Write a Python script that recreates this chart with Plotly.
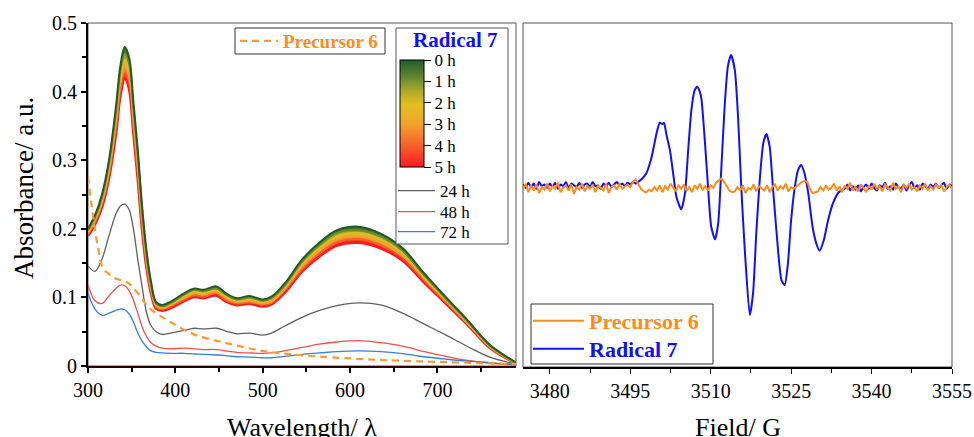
import numpy as np
import plotly.graph_objects as go

# ---------------- UV-vis data (left panel) ----------------
wavelength = [300, 308, 316, 324, 332, 337, 342, 347, 352, 357, 362, 367, 372, 378, 385, 395,
              410, 422, 432, 447, 458, 470, 485, 500, 510, 525, 545, 565, 585, 610, 635, 660,
              685, 710, 735, 760, 790]
abs_0h = [0.200, 0.220, 0.250, 0.300, 0.378, 0.437, 0.465, 0.450, 0.385, 0.315, 0.232, 0.168, 0.124,
          0.093, 0.089, 0.094, 0.106, 0.113, 0.111, 0.116, 0.106, 0.099, 0.102, 0.097, 0.101, 0.120,
          0.155, 0.180, 0.198, 0.203, 0.193, 0.172, 0.135, 0.100, 0.066, 0.031, 0.005]
abs_1h = [0.198, 0.217, 0.246, 0.295, 0.370, 0.429, 0.456, 0.441, 0.376, 0.307, 0.226, 0.163, 0.121,
          0.091, 0.087, 0.092, 0.104, 0.111, 0.109, 0.113, 0.104, 0.097, 0.100, 0.095, 0.099, 0.117,
          0.152, 0.176, 0.194, 0.198, 0.189, 0.168, 0.132, 0.098, 0.065, 0.030, 0.005]
abs_2h = [0.196, 0.215, 0.243, 0.290, 0.363, 0.420, 0.447, 0.432, 0.368, 0.299, 0.219, 0.159, 0.118,
          0.089, 0.086, 0.090, 0.102, 0.108, 0.106, 0.111, 0.101, 0.095, 0.098, 0.093, 0.097, 0.115,
          0.148, 0.172, 0.189, 0.194, 0.185, 0.165, 0.130, 0.096, 0.064, 0.029, 0.005]
abs_3h = [0.194, 0.212, 0.239, 0.285, 0.355, 0.412, 0.437, 0.423, 0.359, 0.291, 0.213, 0.154, 0.114,
          0.088, 0.084, 0.089, 0.099, 0.106, 0.104, 0.108, 0.099, 0.093, 0.095, 0.091, 0.094, 0.112,
          0.145, 0.168, 0.185, 0.189, 0.180, 0.161, 0.127, 0.095, 0.062, 0.028, 0.004]
abs_4h = [0.192, 0.210, 0.236, 0.280, 0.348, 0.403, 0.428, 0.414, 0.351, 0.283, 0.206, 0.150, 0.111,
          0.086, 0.083, 0.087, 0.097, 0.103, 0.101, 0.106, 0.096, 0.091, 0.093, 0.089, 0.092, 0.110,
          0.141, 0.164, 0.180, 0.185, 0.176, 0.158, 0.125, 0.093, 0.061, 0.028, 0.004]
abs_5h = [0.190, 0.207, 0.232, 0.275, 0.340, 0.395, 0.419, 0.405, 0.342, 0.275, 0.200, 0.145, 0.108,
          0.084, 0.081, 0.085, 0.095, 0.101, 0.099, 0.103, 0.094, 0.089, 0.091, 0.087, 0.090, 0.107,
          0.138, 0.160, 0.176, 0.180, 0.172, 0.154, 0.122, 0.091, 0.060, 0.027, 0.004]
abs_24h = [0.146, 0.138, 0.156, 0.190, 0.222, 0.233, 0.236, 0.228, 0.200, 0.155, 0.115, 0.078, 0.059,
           0.050, 0.046, 0.048, 0.052, 0.055, 0.054, 0.055, 0.051, 0.047, 0.048, 0.045, 0.048, 0.058,
           0.071, 0.081, 0.088, 0.092, 0.089, 0.077, 0.061, 0.045, 0.028, 0.013, 0.003]
abs_48h = [0.118, 0.095, 0.091, 0.102, 0.113, 0.118, 0.117, 0.110, 0.096, 0.077, 0.057, 0.043, 0.034,
           0.029, 0.026, 0.025, 0.026, 0.025, 0.024, 0.024, 0.022, 0.020, 0.019, 0.0185, 0.019, 0.022,
           0.027, 0.032, 0.035, 0.037, 0.034, 0.029, 0.021, 0.014, 0.008, 0.004, 0.002]
abs_72h = [0.106, 0.083, 0.074, 0.077, 0.081, 0.083, 0.082, 0.076, 0.064, 0.048, 0.036, 0.028, 0.022,
           0.020, 0.019, 0.0185, 0.0185, 0.0175, 0.017, 0.016, 0.015, 0.0135, 0.013, 0.012, 0.012,
           0.014, 0.017, 0.019, 0.021, 0.022, 0.021, 0.018, 0.0135, 0.010, 0.007, 0.005, 0.002]

wavelength_precursor = [300, 304, 308, 312, 317, 324, 331, 346, 357, 369, 384, 400, 411, 428, 450,
                        466, 500, 542, 600, 650, 700, 750, 790]
abs_precursor = [0.276, 0.235, 0.198, 0.169, 0.143, 0.134, 0.128, 0.121, 0.106, 0.086, 0.072, 0.060,
                 0.052, 0.043, 0.036, 0.031, 0.022, 0.016, 0.011, 0.008, 0.006, 0.004, 0.003]

hour_labels = ["0 h", "1 h", "2 h", "3 h", "4 h", "5 h"]
late_labels = ["24 h", "48 h", "72 h"]

# ---------------- EPR data (right panel) ----------------
field_precursor = np.arange(3475.0, 3555.01, 0.5)
epr_precursor = [
    -0.010, 0.020, -0.030, 0.010, -0.020, 0.015, -0.035, 0.000, -0.015, 0.020,
    -0.025, 0.005, -0.010, 0.025, -0.030, -0.005, 0.010, -0.020, 0.015, -0.040,
    0.000, -0.015, 0.020, -0.025, 0.005, -0.010, 0.015, -0.030, 0.010, -0.005,
    -0.020, 0.020, -0.035, 0.000, 0.010, -0.015, 0.020, -0.010, 0.005, 0.015,
    0.000, 0.030, 0.045, 0.020, -0.010, -0.025, -0.030, -0.015, -0.025, 0.000,
    -0.020, 0.010, -0.030, 0.005, -0.015, 0.020, -0.005, -0.025, 0.010, -0.010,
    0.015, -0.020, 0.000, -0.030, 0.010, -0.010, 0.020, -0.015, 0.005, -0.020,
    0.010, -0.005, 0.025, 0.035, 0.050, 0.030, 0.005, -0.020, -0.030, -0.025,
    0.000, -0.020, 0.010, -0.035, -0.005, -0.015, 0.015, -0.025, 0.005, -0.010,
    -0.020, 0.010, -0.030, 0.000, 0.015, -0.020, 0.005, -0.010, 0.020, -0.025,
    0.000, -0.010, 0.005, 0.015, 0.030, 0.035, 0.030, -0.010, -0.035, -0.030,
    -0.025, 0.000, -0.020, 0.010, -0.015, -0.005, 0.020, -0.020, 0.005, -0.030,
    0.010, -0.010, 0.025, -0.020, 0.000, -0.025, 0.015, -0.005, -0.030, 0.010,
    -0.015, 0.020, -0.010, 0.005, -0.025, 0.015, 0.000, -0.020, 0.025, -0.010,
    0.005, -0.030, 0.015, -0.005, 0.020, -0.015, 0.000, -0.025, 0.010, -0.010,
    0.020, -0.020, 0.005, -0.015, 0.015, -0.005, 0.010, -0.025, 0.000, 0.015, -0.010]

field_radical_left = np.arange(3475.0, 3495.51, 0.5)
epr_radical_left = [
    0.015, -0.005, 0.025, 0.000, 0.020, -0.010, 0.030, 0.005, 0.015, -0.005,
    0.020, 0.000, 0.025, -0.010, 0.015, 0.005, 0.030, -0.005, 0.020, 0.010,
    0.000, 0.025, -0.005, 0.015, 0.020, 0.000, 0.030, 0.005, 0.010, -0.010,
    0.020, 0.005, 0.025, 0.000, 0.015, 0.030, 0.010, 0.020, 0.005, 0.025,
    0.015, 0.030]
field_radical_signal = [
    3496.0, 3496.5, 3497.1, 3498.0, 3499.0, 3499.9, 3500.5, 3501.0, 3501.3, 3501.7,
    3502.4, 3503.0, 3503.6, 3504.5, 3505.2, 3505.8, 3506.4, 3507.0, 3507.5, 3508.0,
    3508.3, 3508.9, 3509.5, 3510.1, 3510.8, 3511.4, 3512.0, 3512.6, 3513.2, 3513.8,
    3514.5, 3515.1, 3515.7, 3516.4, 3517.3, 3517.9, 3518.5, 3519.1, 3519.8, 3520.4,
    3521.0, 3521.6, 3522.4, 3523.2, 3523.8, 3524.4, 3525.0, 3525.7, 3526.3, 3526.9,
    3527.5, 3528.2, 3529.0, 3529.7, 3530.3, 3531.1, 3531.9, 3532.8, 3533.8, 3534.5]
epr_radical_signal = [
    0.020, 0.030, 0.045, 0.080, 0.176, 0.311, 0.373, 0.365, 0.373, 0.311,
    0.214, 0.079, -0.056, -0.129, -0.037, 0.214, 0.446, 0.560, 0.582, 0.550,
    0.504, 0.272, 0.002, -0.230, -0.303, -0.210, 0.118, 0.466, 0.698, 0.765,
    0.678, 0.408, 0.002, -0.385, -0.742, -0.616, -0.269, 0.021, 0.253, 0.307,
    0.234, 0.002, -0.307, -0.539, -0.568, -0.443, -0.191, 0.002, 0.099, 0.128,
    0.079, -0.037, -0.230, -0.327, -0.369, -0.307, -0.191, -0.095, -0.033, -0.017]
field_radical_right = np.arange(3535.0, 3555.01, 0.5)
epr_radical_right = [
    -0.010, 0.015, -0.020, 0.005, -0.015, 0.010, -0.025, 0.000, 0.015, -0.010,
    0.020, -0.005, -0.020, 0.010, 0.000, 0.025, -0.010, 0.005, -0.015, 0.020,
    0.000, -0.010, 0.015, -0.020, 0.010, 0.030, -0.005, 0.010, -0.015, 0.020,
    0.005, -0.010, 0.015, 0.000, 0.020, -0.005, 0.010, 0.025, -0.010, 0.015,
    0.005]

field_radical = list(field_radical_left) + field_radical_signal + list(field_radical_right)
epr_radical = epr_radical_left + epr_radical_signal + epr_radical_right

# ---------------- styling ----------------
W, H = 974, 437
FONT = "Liberation Serif"


def px_x(p):
    return p / W


def px_y(p):
    return 1 - p / H


band_line_colors = ["#235a2c", "#6b8a2c", "#d9bd26", "#f1a22c", "#f5602c", "#ff1a22"]
band_fill_colors = ["#46732c", "#a5a528", "#e8b028", "#f3822c", "#fa3c26"]
band_scale = [[0.0, "#ff1a22"], [0.2, "#f5602c"], [0.4, "#f1a22c"], [0.58, "#e2c020"],
              [0.72, "#a9a82c"], [0.85, "#5e8530"], [1.0, "#235a2c"]]

fig = go.Figure()

band = [abs_0h, abs_1h, abs_2h, abs_3h, abs_4h, abs_5h]
# draw from 5 h (bottom) upward, each filled to the previous one
for k in range(5, -1, -1):
    fig.add_trace(go.Scatter(
        x=wavelength, y=band[k], mode="lines",
        line=dict(color=band_line_colors[k], width=3 if k == 5 else 2, shape="spline"),
        fill=None if k == 5 else "tonexty",
        fillcolor=None if k == 5 else band_fill_colors[k],
        showlegend=False, hoverinfo="skip", xaxis="x", yaxis="y"))

late_colors = ["#606060", "#ef5050", "#3580dc"]
late_legends = ["legend3", "legend4", "legend5"]
for lab, ys, col, lg in zip(late_labels, [abs_24h, abs_48h, abs_72h], late_colors, late_legends):
    fig.add_trace(go.Scatter(
        x=wavelength, y=ys, mode="lines", name=lab,
        line=dict(color=col, width=1.3, shape="spline"),
        legend=lg, xaxis="x", yaxis="y"))

fig.add_trace(go.Scatter(
    x=wavelength_precursor, y=abs_precursor, mode="lines",
    name="<b>Precursor 6</b>",
    line=dict(color="#ff9a33", width=2.2, dash="7px,5px", shape="spline"),
    legend="legend", xaxis="x", yaxis="y"))

# colour bar for the 0-5 h series
fig.add_trace(go.Scatter(
    x=[None], y=[None], mode="markers", showlegend=False, hoverinfo="skip",
    marker=dict(color=[0], colorscale=band_scale, cmin=0, cmax=5, showscale=True,
                colorbar=dict(
                    x=px_x(400), xanchor="left", y=px_y(113.5), yanchor="middle",
                    len=107, lenmode="pixels", thickness=24, thicknessmode="pixels",
                    xpad=0, ypad=0, outlinewidth=1, outlinecolor="black",
                    tickvals=[5, 4, 3, 2, 1, 0], ticktext=hour_labels,
                    ticks="outside", ticklen=7, tickcolor="black", tickwidth=1,
                    tickfont=dict(family=FONT, size=17, color="black"),
                    borderwidth=0, bgcolor="rgba(0,0,0,0)")),
    xaxis="x", yaxis="y"))

# EPR traces
fig.add_trace(go.Scatter(
    x=field_radical, y=epr_radical, mode="lines",
    name="<span style='color:#1010ff'><b>Radical 7</b></span>",
    line=dict(color="#1010ff", width=2, shape="spline", smoothing=0.6),
    legend="legend6", xaxis="x2", yaxis="y2"))
fig.add_trace(go.Scatter(
    x=field_precursor, y=epr_precursor, mode="lines",
    name="<span style='color:#ff8c1a'><b>Precursor 6</b></span>",
    line=dict(color="#ff8c1a", width=2),
    legend="legend2", xaxis="x2", yaxis="y2"))

tickfont = dict(family=FONT, size=20, color="black")


def one_legend(x_left, y_mid, size, width, color="black"):
    return dict(x=px_x(x_left), y=px_y(y_mid), xanchor="left", yanchor="middle",
                bgcolor="rgba(0,0,0,0)", borderwidth=0, itemwidth=width,
                font=dict(family=FONT, size=size, color=color))


fig.update_layout(
    width=W, height=H, margin=dict(l=0, r=0, t=0, b=0, autoexpand=False),
    paper_bgcolor="white", plot_bgcolor="white",
    font=dict(family=FONT, color="black"),
    xaxis=dict(domain=[px_x(88), px_x(516)], range=[300, 790], tick0=300, dtick=100,
               ticks="outside", ticklen=5, tickwidth=1.5, tickcolor="black",
               minor=dict(dtick=50, tick0=300, ticks="outside", ticklen=4, tickcolor="black", showgrid=False),
               showline=True, linecolor="#2a0000", linewidth=2, showgrid=False, zeroline=False,
               tickfont=tickfont, anchor="y"),
    yaxis=dict(domain=[px_y(366), px_y(23)], range=[0, 0.5], tick0=0, dtick=0.1,
               ticks="outside", ticklen=5, tickwidth=1.5, tickcolor="black",
               minor=dict(dtick=0.05, tick0=0, ticks="outside", ticklen=4, tickcolor="black", showgrid=False),
               showline=True, linecolor="black", linewidth=2, showgrid=False, zeroline=False,
               tickfont=tickfont, anchor="x"),
    xaxis2=dict(domain=[px_x(523), px_x(952)], range=[3475, 3555], tick0=3480, dtick=15,
                ticks="outside", ticklen=5, tickwidth=1.2, tickcolor="black",
                minor=dict(dtick=7.5, tick0=3480, ticks="outside", ticklen=4, tickcolor="black", showgrid=False),
                showline=True, linecolor="black", linewidth=1.5, showgrid=False, zeroline=False,
                tickfont=tickfont, anchor="y2"),
    yaxis2=dict(domain=[px_y(367), px_y(23)], range=[-1.043, 0.951],
                showticklabels=False, ticks="", showline=False, showgrid=False, zeroline=False,
                anchor="x2"),
    legend=one_legend(235, 41, 19, 38, "#ff8c1a"),
    legend2=one_legend(528, 321, 22, 51),
    legend6=one_legend(528, 349, 22, 51),
    legend3=one_legend(393, 191, 17, 37),
    legend4=one_legend(393, 212, 17, 37),
    legend5=one_legend(393, 232, 17, 37),
    shapes=[
        dict(type="rect", xref="x domain", yref="y domain", x0=0, x1=1, y0=0, y1=1,
             line=dict(color="#555555", width=1), layer="below"),
        dict(type="rect", xref="x2 domain", yref="y2 domain", x0=0, x1=1, y0=0, y1=1,
             line=dict(color="#555555", width=1), layer="below"),
        # legend frames
        dict(type="rect", xref="paper", yref="paper", x0=px_x(396), x1=px_x(508),
             y0=px_y(244), y1=px_y(28), line=dict(color="#555555", width=1),
             fillcolor="white", layer="above"),
        dict(type="rect", xref="paper", yref="paper", x0=px_x(235), x1=px_x(385),
             y0=px_y(54), y1=px_y(28), line=dict(color="#333333", width=1),
             fillcolor="white", layer="above"),
        dict(type="rect", xref="paper", yref="paper", x0=px_x(531), x1=px_x(713),
             y0=px_y(364), y1=px_y(304), line=dict(color="#333333", width=1),
             fillcolor="white", layer="above"),
    ],
    annotations=[
        dict(text="Absorbance/ a.u.", x=px_x(24), y=px_y(188), xref="paper", yref="paper",
             textangle=-90, showarrow=False, font=dict(family=FONT, size=27, color="black"),
             xanchor="center", yanchor="middle"),
        dict(text="Wavelength/ λ", x=px_x(302), y=px_y(427), xref="paper", yref="paper",
             showarrow=False, font=dict(family=FONT, size=26, color="black"),
             xanchor="center", yanchor="middle"),
        dict(text="Field/ G", x=px_x(738), y=px_y(427), xref="paper", yref="paper",
             showarrow=False, font=dict(family=FONT, size=26, color="black"),
             xanchor="center", yanchor="middle"),
        dict(text="<b>Radical 7</b>", x=px_x(455), y=px_y(40), xref="paper", yref="paper",
             showarrow=False, font=dict(family=FONT, size=21, color="#1010ff"),
             xanchor="center", yanchor="middle"),
    ],
)

# remove the default page margin so the 974x437 figure fills the window exactly
fig.write_html("out.html", config={"displayModeBar": False},
               post_script="document.body.style.margin='0';document.body.style.overflow='hidden';")
